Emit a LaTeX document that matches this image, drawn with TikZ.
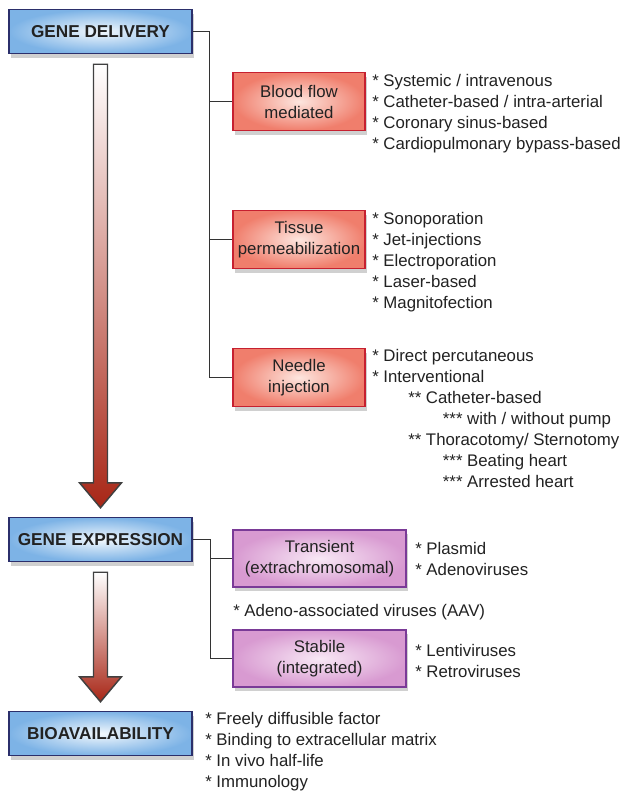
\documentclass[tikz,border=0pt]{standalone}
\usepackage{fontspec}
\setmainfont{Liberation Sans}
\usetikzlibrary{positioning}
\usetikzlibrary{calc}
\usetikzlibrary{shadows}
\definecolor{textgrey}{HTML}{222222}
\definecolor{stageline}{HTML}{2B2F6B}
\definecolor{stageout}{HTML}{7DB3E6}
\definecolor{stagein}{HTML}{F2F8FD}
\definecolor{routeline}{HTML}{C62030}
\definecolor{routeout}{HTML}{F07E6C}
\definecolor{routein}{HTML}{FDE6DF}
\definecolor{vectorline}{HTML}{7A3A97}
\definecolor{vectorout}{HTML}{D89AD1}
\definecolor{vectorin}{HTML}{F8E8F5}
\definecolor{arrowred}{HTML}{A82616}
\newcommand\flowarrow[2]{
  \path[flowshaft] ($(#1.south)+(-7,10)$) -- ($(#1.south)+(7,10)$)
    -- ($(#2.north)+(7,-34)$) -- ($(#2.north)+(21,-34)$) -- ($(#2.north)+(0,-9)$)
    -- ($(#2.north)+(-21,-34)$) -- ($(#2.north)+(-7,-34)$) -- cycle;
}

\begin{document}
\begin{tikzpicture}[x=0.75pt, y=-0.75pt,
    boxshadow/.style={drop shadow={shadow xshift=1.5pt, shadow yshift=-3pt, opacity=.3, fill=black!60}},
    stage/.style={boxshadow, draw=stageline, line width=1.1pt, inner color=stagein, outer color=stageout,
      minimum width=137.25pt, minimum height=33pt, inner sep=0pt, text=textgrey,
      font=\fontsize{12.9}{15.75}\selectfont\bfseries},
    route/.style={boxshadow, draw=routeline, line width=1pt, inner color=routein, outer color=routeout,
      minimum width=99pt, minimum height=43.5pt, inner sep=0pt, align=center, text=textgrey,
      font=\fontsize{12.6}{15.75}\selectfont},
    vector/.style={route, draw=vectorline, inner color=vectorin, outer color=vectorout,
      minimum width=129.75pt, minimum height=42.75pt},
    items/.style={anchor=north west, align=left, inner sep=0pt, text=textgrey,
      font=\fontsize{12.6}{15.75}\selectfont},
    link/.style={draw=black!80, line width=0.9pt},
    flowshaft/.style={draw=black!75, line width=1.1pt, line join=miter, top color=white,
      middle color=arrowred!35, bottom color=arrowred}]
  \path[fill=white] (0,0) rectangle (633,796);
  \useasboundingbox (0,0) rectangle (633,796);

  % main stages
  \node[stage] (gd) at (100.5,31.5) {GENE DELIVERY};
  \node[stage] (ge) at (100.5,539.5) {GENE EXPRESSION};
  \node[stage] (bio) at (100.5,733.5) {BIOAVAILABILITY};
  \flowarrow{gd}{ge}
  \flowarrow{ge}{bio}

  % delivery routes
  \node[route] (blood) at (299,101.5) {Blood flow\\mediated};
  \node[route] (tissue) at (299,239.5) {Tissue\\permeabilization};
  \node[route] (needle) at (299,377.5) {Needle\\injection};
  \coordinate (dspine) at ($(gd.east)+(17,0)$);
  \draw[link] (gd.east) -- (dspine) |- (needle.west);
  \draw[link] (blood.west) -- (blood.west -| dspine);
  \draw[link] (tissue.west) -- (tissue.west -| dspine);

  \node[items] (bloodlist) at (372,74) {* Systemic / intravenous\\* Catheter-based / intra-arterial\\* Coronary sinus-based\\* Cardiopulmonary bypass-based};
  \node[items] (tissuelist) at (372,212) {* Sonoporation\\* Jet-injections\\* Electroporation\\* Laser-based\\* Magnitofection};
  \node[items] (needlelist) at (372,349) {* Direct percutaneous\\* Interventional\\
    \hspace*{27pt}** Catheter-based\\\hspace*{53pt}*** with / without pump\\
    \hspace*{27pt}** Thoracotomy/ Sternotomy\\\hspace*{53pt}*** Beating heart\\\hspace*{53pt}*** Arrested heart};

  % expression vectors
  \node[vector] (transient) at (319.5,558.5) {Transient\\(extrachromosomal)};
  \node[vector] (stabile) at (319.5,658.5) {Stabile\\(integrated)};
  \coordinate (espine) at ($(ge.east)+(18,0)$);
  \draw[link] (ge.east) -- (espine) |- (stabile.west);
  \draw[link] (transient.west) -- (transient.west -| espine);

  \node[items] (transientlist) at (415,542) {* Plasmid\\* Adenoviruses};
  \node[items] (aav) at (233,604) {* Adeno-associated viruses (AAV)};
  \node[items] (stabilelist) at (415,644) {* Lentiviruses\\* Retroviruses};

  % bioavailability
  \node[items] (biolist) at (205,712) {* Freely diffusible factor\\* Binding to extracellular matrix\\* In vivo half-life\\* Immunology};
\end{tikzpicture}
\end{document}
